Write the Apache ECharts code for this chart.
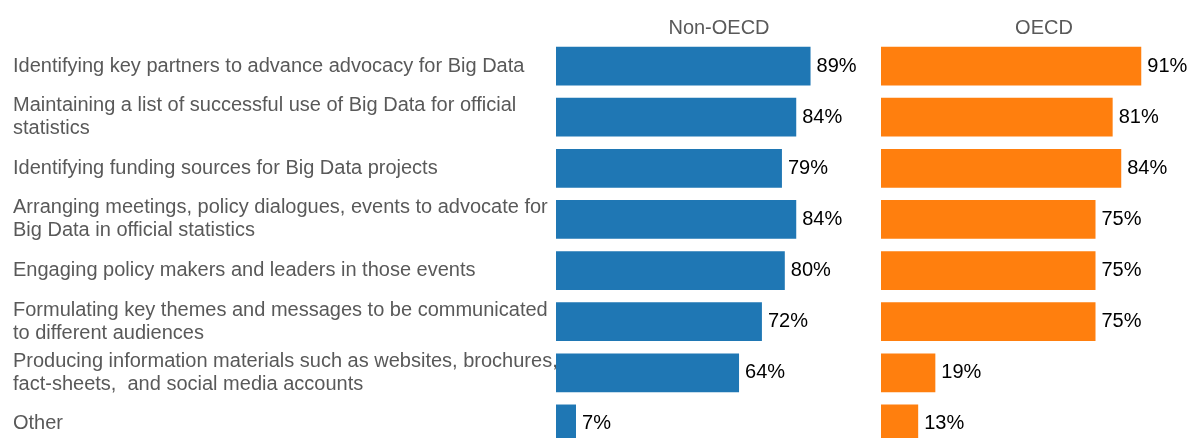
<!DOCTYPE html>
<html><head><meta charset="utf-8">
<script src="https://cdn.jsdelivr.net/npm/echarts@6/dist/echarts.min.js"></script>
<style>html,body{margin:0;padding:0;background:#fff;overflow:hidden}#c{width:1191px;height:460px}</style>
</head><body><div id="c"></div>
<script>
const categories = [
  "Identifying key partners to advance advocacy for Big Data",
  "Maintaining a list of successful use of Big Data for official\nstatistics",
  "Identifying funding sources for Big Data projects",
  "Arranging meetings, policy dialogues, events to advocate for\nBig Data in official statistics",
  "Engaging policy makers and leaders in those events",
  "Formulating key themes and messages to be communicated\nto different audiences",
  "Producing information materials such as websites, brochures,\nfact-sheets,  and social media accounts",
  "Other"
];
const nonOecd = [89, 84, 79, 84, 80, 72, 64, 7];
const oecd = [91, 81, 84, 75, 75, 75, 19, 13];
const groupNames = ["Non-OECD", "OECD"];

const chart = echarts.init(document.getElementById('c'), null, {renderer: 'canvas'});
const font = 'Liberation Sans, Arial, sans-serif';
const gridTop = 40.5, gridH = 409;
const lbl = {show: true, position: 'right', distance: 6, formatter: '{c}%', color: '#000', fontSize: 20, fontFamily: font};
const hdr = {color: '#595959', fontSize: 20, fontWeight: 'normal', fontFamily: font};
chart.setOption({
  animation: false,
  textStyle: {fontFamily: font},
  title: [
    {text: groupNames[0], left: 714, top: 13, textAlign: 'center', textStyle: hdr},
    {text: groupNames[1], left: 1039, top: 13, textAlign: 'center', textStyle: hdr}
  ],
  grid: [
    {left: 556, top: gridTop, width: 286, height: gridH, containLabel: false},
    {left: 881, top: gridTop, width: 286, height: gridH, containLabel: false}
  ],
  xAxis: [
    {gridIndex: 0, type: 'value', min: 0, max: 100, show: false},
    {gridIndex: 1, type: 'value', min: 0, max: 100, show: false}
  ],
  yAxis: [
    {gridIndex: 0, type: 'category', data: categories, inverse: true,
     axisLine: {show: false}, axisTick: {show: false}, splitLine: {show: false},
     axisLabel: {align: 'left', margin: 543, color: '#595959', fontSize: 20, lineHeight: 23, fontFamily: font}},
    {gridIndex: 1, type: 'category', data: categories, inverse: true,
     axisLine: {show: false}, axisTick: {show: false}, splitLine: {show: false}, axisLabel: {show: false}}
  ],
  series: [
    {type: 'bar', xAxisIndex: 0, yAxisIndex: 0, data: nonOecd, barWidth: '76%', itemStyle: {color: '#1f77b4'}, label: lbl},
    {type: 'bar', xAxisIndex: 1, yAxisIndex: 1, data: oecd, barWidth: '76%', itemStyle: {color: '#ff7f0e'}, label: lbl}
  ]
});
</script></body></html>
